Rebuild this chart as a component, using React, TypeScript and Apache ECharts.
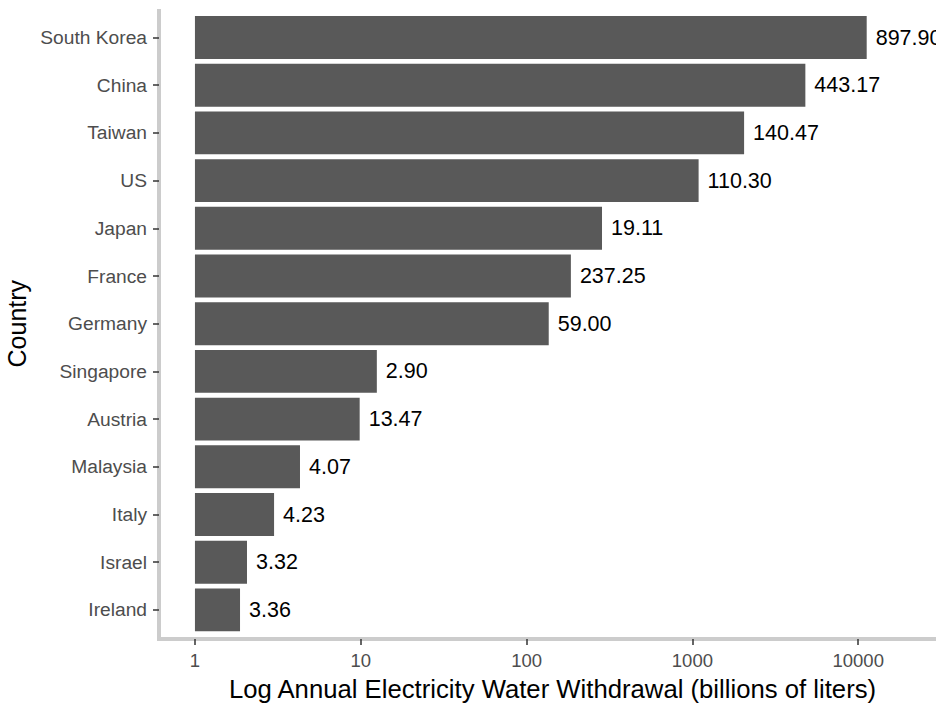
import React, { useEffect, useRef } from "react";
import * as echarts from "echarts";

const countries = [
  "South Korea", "China", "Taiwan", "US", "Japan", "France", "Germany",
  "Singapore", "Austria", "Malaysia", "Italy", "Israel", "Ireland",
];
// bar lengths
const barValues = [11250, 4800, 2050, 1090, 285, 185, 136, 12.5, 9.85, 4.3, 3.0, 2.06, 1.87];
// text printed next to each bar
const barLabels = [
  "897.90", "443.17", "140.47", "110.30", "19.11", "237.25", "59.00",
  "2.90", "13.47", "4.07", "4.23", "3.32", "3.36",
];
const tickValues = [1, 10, 100, 1000, 10000];

const FONT = "'Liberation Sans', Arial, sans-serif";

export default function App() {
  const ref = useRef<HTMLDivElement>(null);
  useEffect(() => {
    if (!ref.current) return;
    const chart = echarts.init(ref.current, null, { renderer: "svg" });
    chart.setOption({
      animation: false,
      backgroundColor: "#ffffff",
      textStyle: { fontFamily: FONT },
      grid: [
        { left: 159, right: 0, top: 13.65, bottom: 74.25, containLabel: false, outerBoundsMode: "none" },
        { left: 159, right: 0, top: 11, bottom: 69, containLabel: false, outerBoundsMode: "none" },
      ],
      xAxis: [
        {
          type: "log",
          gridIndex: 0,
          min: 0.607,
          max: 29450,
          offset: 5.25,
          axisLine: { show: false },
          splitLine: { show: false },
          axisTick: {
            show: true,
            customValues: tickValues,
            length: 6,
            lineStyle: { color: "#333333", width: 1.5 },
          },
          axisLabel: {
            customValues: tickValues,
            margin: 12,
            color: "#4D4D4D",
            fontSize: 18.5,
            fontFamily: FONT,
            formatter: (v: number) => String(Math.round(v)),
          },
          name: "Log Annual Electricity Water Withdrawal (billions of liters)",
          nameLocation: "middle",
          nameGap: 37,
          nameTextStyle: {
            color: "#000000",
            fontSize: 25.7,
            fontFamily: FONT,
            padding: [0, 0, 0, 10],
          },
        },
        {
          type: "value",
          gridIndex: 1,
          min: 0,
          max: 1,
          axisLine: { show: true, lineStyle: { color: "#CCCCCC", width: 4, cap: "square" } },
          axisTick: { show: false },
          axisLabel: { show: false },
          splitLine: { show: false },
        },
      ],
      yAxis: [
        {
          type: "category",
          gridIndex: 0,
          data: countries,
          inverse: true,
          axisLine: { show: false },
          axisTick: {
            show: true,
            alignWithLabel: true,
            length: 6,
            lineStyle: { color: "#333333", width: 1.5 },
          },
          axisLabel: {
            margin: 12,
            color: "#4D4D4D",
            fontSize: 19.2,
            fontFamily: FONT,
          },
          splitLine: { show: false },
          name: "Country",
          nameLocation: "middle",
          nameGap: 125,
          nameTextStyle: { color: "#000000", fontSize: 25, fontFamily: FONT },
        },
        {
          type: "value",
          gridIndex: 1,
          min: 0,
          max: 1,
          axisLine: { show: true, lineStyle: { color: "#CCCCCC", width: 4, cap: "square" } },
          axisTick: { show: false },
          axisLabel: { show: false },
          splitLine: { show: false },
        },
      ],
      series: [
        {
          type: "bar",
          xAxisIndex: 0,
          yAxisIndex: 0,
          data: barValues,
          barWidth: "90%",
          itemStyle: { color: "#595959" },
          label: {
            show: true,
            position: "right",
            distance: 9,
            color: "#000000",
            fontSize: 21.5,
            fontFamily: FONT,
            formatter: (p: any) => barLabels[p.dataIndex],
          },
        },
      ],
    });
    return () => chart.dispose();
  }, []);
  return (
    <div
      ref={ref}
      style={{ position: "fixed", left: 0, top: 0, width: 936, height: 708 }}
    />
  );
}
